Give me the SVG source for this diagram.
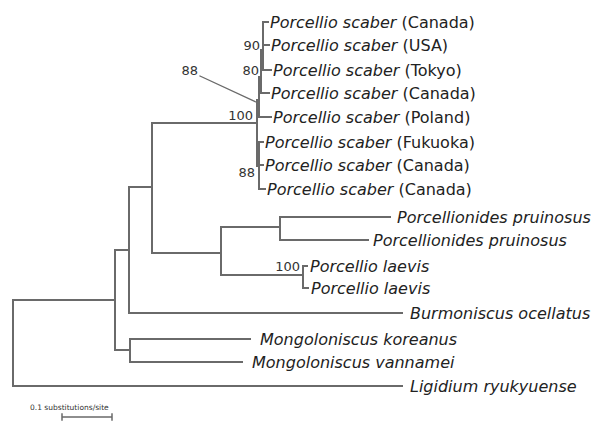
<svg xmlns="http://www.w3.org/2000/svg" width="599" height="421" viewBox="0 0 599 421">
<style>
.br{fill:none;stroke:#6a6a6a;stroke-width:2;stroke-linecap:square}
.lf{font-family:"DejaVu Sans",Verdana,sans-serif;font-size:16px;fill:#222}
.sp{font-style:italic}
.bs{font-family:"DejaVu Sans",Verdana,sans-serif;font-size:13px;fill:#333;text-anchor:end}
.sc{font-family:"DejaVu Sans",Verdana,sans-serif;font-size:7.5px;fill:#333}
</style>
<rect width="599" height="421" fill="#fff"/>
<g id="connectors" class="br">
<path d="M13,300V386M13,300H115M13,386H402"/>
<path d="M115,250V350M115,250H129M115,350H130"/>
<path d="M129,187V313M129,187H152M129,313H402"/>
<path d="M130,339V362M130,339H250M130,362H242"/>
<path d="M152,123V253M152,123H257M152,253H221"/>
<path d="M221,227V275M221,227H280M221,275H303"/>
<path d="M280,217V240M280,217H390M280,240H368"/>
<path d="M303,266V288M303,266H307M303,288H308"/>
<path d="M257,100V166M257,100H259M257,166H259"/>
<path d="M259,77V117M259,77H261M259,117H271"/>
<path d="M261,50V93M261,50H263M261,93H269"/>
<path d="M263,22V70M263,22H268M263,45H269M263,70H271"/>
<path d="M259,142V189M259,142H263M259,165H263M259,189H265"/>
<path d="M62,417H112M62,414V420M112,414V420" style="stroke-width:1.5"/>
<path d="M200,76L258,103" style="stroke-width:1.3"/>
</g>
<g id="leaf1"><text class="lf" x="270" y="27.5"><tspan class="sp">Porcellio scaber</tspan> (Canada)</text></g>
<g id="leaf2"><text class="lf" x="271" y="50.5"><tspan class="sp">Porcellio scaber</tspan> (USA)</text></g>
<g id="leaf3"><text class="lf" x="273" y="75.5"><tspan class="sp">Porcellio scaber</tspan> (Tokyo)</text></g>
<g id="leaf4"><text class="lf" x="271" y="98.5"><tspan class="sp">Porcellio scaber</tspan> (Canada)</text></g>
<g id="leaf5"><text class="lf" x="273" y="122.5"><tspan class="sp">Porcellio scaber</tspan> (Poland)</text></g>
<g id="leaf6"><text class="lf" x="265" y="147.5"><tspan class="sp">Porcellio scaber</tspan> (Fukuoka)</text></g>
<g id="leaf7"><text class="lf" x="265" y="170.5"><tspan class="sp">Porcellio scaber</tspan> (Canada)</text></g>
<g id="leaf8"><text class="lf" x="267" y="194.5"><tspan class="sp">Porcellio scaber</tspan> (Canada)</text></g>
<g id="leaf9"><text class="lf sp" x="397" y="222.5">Porcellionides pruinosus</text></g>
<g id="leaf10"><text class="lf sp" x="373" y="245.5">Porcellionides pruinosus</text></g>
<g id="leaf11"><text class="lf sp" x="310" y="271.5">Porcellio laevis</text></g>
<g id="leaf12"><text class="lf sp" x="311" y="293.5">Porcellio laevis</text></g>
<g id="leaf13"><text class="lf sp" x="410" y="318.5">Burmoniscus ocellatus</text></g>
<g id="leaf14"><text class="lf sp" x="260" y="344.5">Mongoloniscus koreanus</text></g>
<g id="leaf15"><text class="lf sp" x="252" y="367.5">Mongoloniscus vannamei</text></g>
<g id="leaf16"><text class="lf sp" x="410" y="391.5">Ligidium ryukyuense</text></g>
<g id="support">
<text class="bs" x="260" y="50">90</text>
<text class="bs" x="259" y="75">80</text>
<text class="bs" x="198" y="75">88</text>
<text class="bs" x="253" y="120">100</text>
<text class="bs" x="255" y="177">88</text>
<text class="bs" x="300" y="271">100</text>
</g>
<g id="scalebar"><text class="sc" x="30" y="410">0.1 substitutions/site</text></g>
</svg>
